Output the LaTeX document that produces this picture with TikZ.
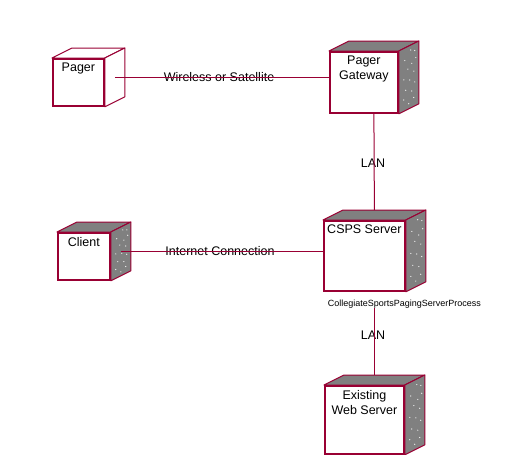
\documentclass[tikz,border=0pt]{standalone}
\usepackage{fontspec}
\setmainfont{Liberation Sans}
\usetikzlibrary{calc}
\usetikzlibrary{backgrounds}
\definecolor{edge}{RGB}{153,0,51}
\definecolor{boxgray}{RGB}{128,128,128}

\begin{document}
\begin{tikzpicture}[x=1pt, y=-1pt,
  device/.style={draw=edge, line width=1.8pt, fill=white, anchor=north west, inner sep=0pt},
  facet/.style={draw=edge, line width=1pt, line join=round},
  conn/.style={draw=edge, line width=1pt},
  lbl/.style={font=\fontsize{12.5}{15}\selectfont, inner sep=0pt},
  devname/.style={font=\fontsize{12.5}{15}\selectfont, align=center, anchor=north, inner sep=0pt},
  proc/.style={font=\fontsize{9}{11}\selectfont, inner sep=0pt}]

\useasboundingbox (0,0) rectangle (507,455);

% front faces of the nodes
\node[device, minimum width=51, minimum height=47] (pager) at (52,58) {};
\node[device, minimum width=68, minimum height=61] (gw) at (329,51) {};
\node[device, minimum width=52, minimum height=47] (client) at (57,232) {};
\node[device, minimum width=81, minimum height=70] (csps) at (323,220) {};
\node[device, minimum width=79, minimum height=68] (web) at (324,385) {};

% top and side faces
\begin{scope}[on background layer]
\foreach \n/\c in {pager/white, gw/boxgray, client/boxgray, csps/boxgray, web/boxgray} {
  \draw[facet, fill=\c] (\n.north west) -- ++(20,-10) -- ($(\n.north east)+(20,-10)$) -- (\n.north east) -- cycle;
  \draw[facet, fill=\c] (\n.north east) -- ++(20,-10) -- ($(\n.south east)+(20,-10)$) -- (\n.south east) -- cycle;
}
\foreach \n in {gw, client, csps, web}
  \foreach \f/\dx in {0.08/12, 0.12/16, 0.2/6, 0.24/17, 0.3/13, 0.36/9, 0.44/15, 0.5/5,
                      0.55/11, 0.62/16, 0.68/7, 0.74/13, 0.82/5, 0.86/15, 0.92/10}
    \fill[white] ($(\n.north east)!\f!(\n.south east)+(\dx,-\dx/2)$) circle (0.6);
\end{scope}

% names
\node[devname] (pager-t) at ($(pager.north)+(0,5)$) {Pager};
\node[devname] (gw-t) at ($(gw.north)+(0,5)$) {Pager\\Gateway};
\node[devname] (client-t) at ($(client.north)+(0,5)$) {Client};
\node[devname] (csps-t) at ($(csps.north)+(0,5)$) {CSPS Server};
\node[devname] (web-t) at ($(web.north)+(0,5)$) {Existing\\Web Server};
\node[proc] (proc) at ($(csps.south)+(40,12)$) {CollegiateSportsPagingServerProcess};

% connector labels
\node[lbl] (wl) at (219,77) {Wireless or Satellite};
\node[lbl] (inet) at (220,251) {Internet Connection};
\node[lbl] (lan1) at (373,163) {LAN};
\node[lbl] (lan2) at (373,335) {LAN};

% connectors
\coordinate (pager-side) at ($(pager.east)+(10,-5)$);
\coordinate (client-side) at ($(client.east)+(10,-5)$);
\coordinate (csps-c) at ($(csps.south)+(10,0)$);
\draw[conn] (pager-side) -- (pager-side -| gw.west);
\draw[conn] (client-side) -- (client-side -| csps.west);
\draw[conn] ($(gw.south)+(10,0)$) -- ($(csps.north)+(10,-10)$);
\draw[conn] (csps-c |- proc.south) -- ($(web.north)+(10,-10)$);

\end{tikzpicture}
\end{document}
